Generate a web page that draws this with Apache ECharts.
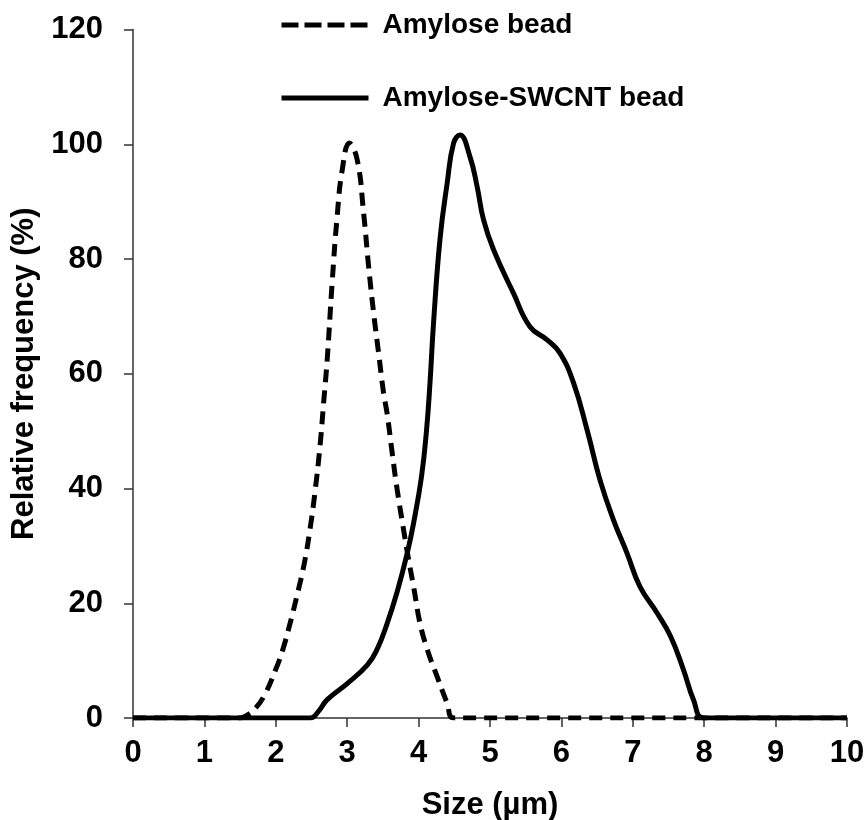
<!DOCTYPE html>
<html>
<head>
<meta charset="utf-8">
<script src="https://cdn.jsdelivr.net/npm/echarts@6/dist/echarts.min.js"></script>
<style>
  html, body { margin: 0; padding: 0; background: #fff; }
  #chart { width: 867px; height: 820px; }
</style>
</head>
<body>
<div id="chart"></div>
<script>
// size (µm) / relative frequency (%)
const amyloseX = [0, 1.5, 1.6, 1.7, 1.83, 2.0, 2.1, 2.2, 2.3, 2.4, 2.48, 2.55, 2.62, 2.67, 2.72, 2.79, 2.86, 2.93, 3.03, 3.14, 3.23, 3.3, 3.37, 3.44, 3.51, 3.56, 3.63, 3.7, 3.79, 3.86, 3.93, 4.02, 4.12, 4.26, 4.4, 4.5, 10]
const amyloseY = [0, 0, 0.5, 1.5, 3.7, 8.5, 12, 16.5, 21.5, 27, 33, 39.5, 47.5, 55, 62.5, 76, 87.5, 95.5, 100.2, 97.3, 88, 78.7, 70.6, 63.6, 56.6, 53, 46.2, 39.8, 32.8, 27.6, 22.9, 16.5, 12, 7.2, 2.6, 0, 0]

const swcntX = [0, 2.48, 2.6, 2.72, 3.0, 3.28, 3.42, 3.56, 3.7, 3.84, 3.93, 4.04, 4.11, 4.16, 4.21, 4.3, 4.4, 4.49, 4.58, 4.72, 4.82, 4.91, 5.05, 5.33, 5.56, 5.8, 5.98, 6.17, 6.36, 6.54, 6.73, 6.92, 7.1, 7.34, 7.53, 7.71, 7.85, 8.0, 10]
const swcntY = [0, 0, 1.2, 3.2, 6, 9.2, 12, 16.5, 22, 28.7, 34, 42, 50, 58.5, 69, 83.5, 93.2, 100.2, 101.6, 97.8, 92.6, 86.8, 81.6, 74, 68.2, 65.9, 63.6, 58.4, 50.2, 41.5, 34.5, 28.7, 22.9, 18.3, 14.2, 8.4, 3.2, 0, 0]

const seriesNames = ['Amylose bead', 'Amylose-SWCNT bead']

const toPairs = (xs, ys) => xs.map((x, i) => [x, ys[i]])

const chart = echarts.init(document.getElementById('chart'))

const font = 'Liberation Sans, Arial, sans-serif'

const option = {
  animation: false,
  backgroundColor: '#fff',
  grid: { left: 133, right: 20, top: 29.5, bottom: 102, containLabel: false, outerBoundsMode: 'none' },
  legend: {
    orient: 'vertical',
    left: 274,
    top: 6,
    itemWidth: 87,
    itemHeight: 28,
    itemGap: 45,
    itemStyle: { opacity: 0 },
    lineStyle: { width: 5, color: '#000' },
    textStyle: { fontFamily: font, fontSize: 28, fontWeight: 'bold', color: '#000', padding: [0, 0, 0, 9] },
    data: [
      { name: seriesNames[0], lineStyle: { type: [17, 6] } },
      { name: seriesNames[1] }
    ]
  },
  xAxis: {
    type: 'value',
    min: 0,
    max: 10,
    interval: 1,
    name: 'Size (µm)',
    nameLocation: 'middle',
    nameGap: 72,
    nameTextStyle: { fontFamily: font, fontSize: 31, fontWeight: 'bold', color: '#000' },
    axisLine: { show: true, lineStyle: { color: '#333', width: 1.5 } },
    axisTick: { show: true, inside: false, length: 9, lineStyle: { color: '#333', width: 1.5 } },
    axisLabel: { fontFamily: font, fontSize: 31, fontWeight: 'bold', color: '#000', margin: 20 },
    splitLine: { show: false }
  },
  yAxis: {
    type: 'value',
    min: 0,
    max: 120,
    interval: 20,
    name: 'Relative frequency (%)',
    nameLocation: 'middle',
    nameGap: 86,
    nameRotate: 90,
    nameTextStyle: { fontFamily: font, fontSize: 31, fontWeight: 'bold', color: '#000' },
    axisLine: { show: true, lineStyle: { color: '#333', width: 1.5 } },
    axisTick: { show: true, inside: false, length: 9, lineStyle: { color: '#333', width: 1.5 } },
    axisLabel: { fontFamily: font, fontSize: 31, fontWeight: 'bold', color: '#000', margin: 30 },
    splitLine: { show: false }
  },
  series: [
    {
      name: seriesNames[0],
      type: 'line',
      data: toPairs(amyloseX, amyloseY),
      smooth: 0.45,
      symbol: 'none',
      z: 3,
      itemStyle: { color: '#000' },
      lineStyle: { color: '#000', width: 5, type: [13, 8] }
    },
    {
      name: seriesNames[1],
      type: 'line',
      data: toPairs(swcntX, swcntY),
      smooth: 0.45,
      symbol: 'none',
      z: 2,
      itemStyle: { color: '#000' },
      lineStyle: { color: '#000', width: 5 }
    }
  ]
}

chart.setOption(option)
</script>
</body>
</html>
